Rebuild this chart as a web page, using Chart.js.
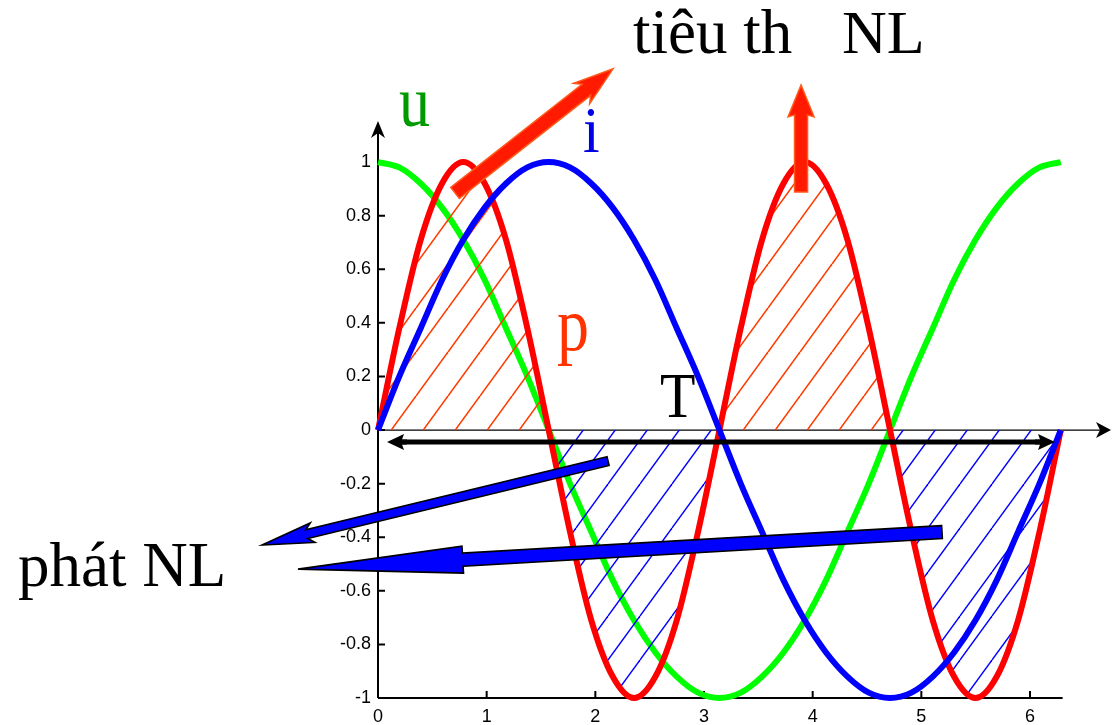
<!DOCTYPE html>
<html>
<head>
<meta charset="utf-8">
<title>u, i, p</title>
<script src="https://cdn.jsdelivr.net/npm/chart.js@4.4.1/dist/chart.umd.min.js"></script>
<style>
body { margin: 0; background: #fff; }
</style>
</head>
<body>
<canvas id="myChart" width="1112" height="725"></canvas>
<script>
// one period, sampled every pi/16
var xs = [0, 0.196, 0.393, 0.589, 0.785, 0.982, 1.178, 1.374, 1.571, 1.767, 1.963, 2.160, 2.356,
    2.553, 2.749, 2.945, 3.142, 3.338, 3.534, 3.731, 3.927, 4.123, 4.320, 4.516, 4.712, 4.909,
    5.105, 5.301, 5.498, 5.694, 5.890, 6.087, 6.283];
var uVals = [1, 0.98, 0.92, 0.83, 0.71, 0.56, 0.38, 0.2, 0, -0.2, -0.38, -0.56, -0.71, -0.83, -0.92, -0.98,
    -1, -0.98, -0.92, -0.83, -0.71, -0.56, -0.38, -0.2, 0, 0.2, 0.38, 0.56, 0.71, 0.83, 0.92, 0.98, 1];
var iVals = [0, 0.2, 0.38, 0.56, 0.71, 0.83, 0.92, 0.98, 1, 0.98, 0.92, 0.83, 0.71, 0.56, 0.38, 0.2,
    0, -0.2, -0.38, -0.56, -0.71, -0.83, -0.92, -0.98, -1, -0.98, -0.92, -0.83, -0.71, -0.56, -0.38, -0.2, 0];
var pVals = [0, 0.38, 0.71, 0.92, 1, 0.92, 0.71, 0.38, 0, -0.38, -0.71, -0.92, -1, -0.92, -0.71, -0.38,
    0, 0.38, 0.71, 0.92, 1, 0.92, 0.71, 0.38, 0, -0.38, -0.71, -0.92, -1, -0.92, -0.71, -0.38, 0];
var xTicks = [0, 1, 2, 3, 4, 5, 6];
var yTicks = [-1, -0.8, -0.6, -0.4, -0.2, 0, 0.2, 0.4, 0.6, 0.8, 1];

function points(ys) {
    return ys.map(function (v, k) { return { x: xs[k], y: v }; });
}

// diagonal hatch tile for the filled lobes
function hatch(color, width) {
    var w = 32, h = 44;
    var c = document.createElement('canvas');
    c.width = w;
    c.height = h;
    var g = c.getContext('2d');
    g.strokeStyle = color;
    g.lineWidth = width;
    [-w, 0, w].forEach(function (o) {
        g.beginPath();
        g.moveTo(o, h);
        g.lineTo(o + w, 0);
        g.stroke();
    });
    return g.createPattern(c, 'repeat');
}
var redHatch = hatch('#ff3c00', 1.6);
var blueHatch = hatch('#0000ff', 1.4);

function arrow(ctx, x1, y1, x2, y2, o) {
    var dx = x2 - x1, dy = y2 - y1, len = Math.sqrt(dx * dx + dy * dy);
    var ux = dx / len, uy = dy / len, nx = -uy, ny = ux;
    var bx = x2 - ux * o.head, by = y2 - uy * o.head;
    var kx = x2 - ux * (o.head - (o.barb || 0)), ky = y2 - uy * (o.head - (o.barb || 0));
    ctx.beginPath();
    ctx.moveTo(x1 + nx * o.shaft, y1 + ny * o.shaft);
    ctx.lineTo(kx + nx * o.shaft, ky + ny * o.shaft);
    ctx.lineTo(bx + nx * o.wing, by + ny * o.wing);
    ctx.lineTo(x2, y2);
    ctx.lineTo(bx - nx * o.wing, by - ny * o.wing);
    ctx.lineTo(kx - nx * o.shaft, ky - ny * o.shaft);
    ctx.lineTo(x1 - nx * o.shaft, y1 - ny * o.shaft);
    ctx.closePath();
    ctx.fillStyle = o.fill;
    ctx.fill();
    if (o.stroke) {
        ctx.lineJoin = 'miter';
        ctx.strokeStyle = o.stroke;
        ctx.lineWidth = o.lw || 1.5;
        ctx.stroke();
    }
}

// arrows, in axis units
var arrows = [
    { from: [0.709, 0.885], to: [2.163, 1.348], shaft: 7, head: 40, wing: 13, barb: 6, fill: '#ff1a00', stroke: '#ff5a1a', lw: 1.5 },
    { from: [3.893, 0.888], to: [3.893, 1.288], shaft: 6.5, head: 32, wing: 13, barb: 2, fill: '#ff1a00', stroke: '#ff5a1a', lw: 1.5 },
    { from: [2.117, -0.116], to: [-1.067, -0.429], shaft: 4.5, head: 52, wing: 10, barb: 6, fill: '#0000ff', stroke: '#000', lw: 1.6 },
    { from: [5.190, -0.381], to: [-0.736, -0.519], shaft: 6.5, head: 165, wing: 13.5, barb: 0, fill: '#0000ff', stroke: '#000', lw: 1.6 }
];

// text labels, in axis units
var serif = "'Liberation Serif', 'Times New Roman', serif";
var labels = [
    { text: 'tiêu th', at: [2.347, 1.408], size: 63, color: '#000', sy: 1 },
    { text: 'NL', at: [4.270, 1.408], size: 62, color: '#000', sy: 1 },
    { text: 'u', at: [0.193, 1.135], size: 62, color: '#009900', sy: 1.15 },
    { text: 'i', at: [1.887, 1.038], size: 60, color: '#0000e6', sy: 1.1 },
    { text: 'p', at: [1.647, 0.299], size: 64, color: '#ff3300', sy: 1.2 },
    { text: 'T', at: [2.595, 0.049], size: 58, color: '#000', sy: 1.1 },
    { text: 'phát NL', at: [-3.313, -0.583], size: 63, color: '#000', sy: 1 }
];

var axesPlugin = {
    id: 'axes',
    beforeDatasetsDraw: function (chart) {
        var ctx = chart.ctx, sx = chart.scales.x, sy = chart.scales.y, area = chart.chartArea;
        var x0 = sx.getPixelForValue(0), y0 = sy.getPixelForValue(0), yb = sy.getPixelForValue(-1);
        ctx.save();
        ctx.strokeStyle = '#000';
        ctx.fillStyle = '#000';
        // frame bottom and left
        ctx.lineWidth = 2;
        ctx.beginPath();
        ctx.moveTo(x0, yb);
        ctx.lineTo(sx.getPixelForValue(6.3), yb);
        ctx.moveTo(x0, yb);
        ctx.lineTo(x0, area.top + 10);
        ctx.stroke();
        // zero line
        ctx.lineWidth = 1.3;
        ctx.beginPath();
        ctx.moveTo(x0, y0);
        ctx.lineTo(area.right - 6, y0);
        ctx.stroke();
        // tick marks
        ctx.lineWidth = 2;
        ctx.beginPath();
        yTicks.forEach(function (v) {
            var y = sy.getPixelForValue(v);
            ctx.moveTo(x0, y);
            ctx.lineTo(x0 + 7, y);
        });
        xTicks.forEach(function (v) {
            var x = sx.getPixelForValue(v);
            ctx.moveTo(x, yb);
            ctx.lineTo(x, yb - 7);
        });
        ctx.stroke();
        // arrow heads
        ctx.beginPath();
        ctx.moveTo(area.right + 1, y0);
        ctx.lineTo(area.right - 14, y0 - 8);
        ctx.lineTo(area.right - 10, y0);
        ctx.lineTo(area.right - 14, y0 + 8);
        ctx.closePath();
        ctx.fill();
        ctx.beginPath();
        ctx.moveTo(x0, area.top + 1);
        ctx.lineTo(x0 - 7, area.top + 18);
        ctx.lineTo(x0, area.top + 13);
        ctx.lineTo(x0 + 7, area.top + 18);
        ctx.closePath();
        ctx.fill();
        ctx.restore();
    },
    afterDatasetsDraw: function (chart) {
        var ctx = chart.ctx, sx = chart.scales.x, sy = chart.scales.y;
        function px(a) { return [sx.getPixelForValue(a[0]), sy.getPixelForValue(a[1])]; }
        ctx.save();
        // period T
        var l = px([0.083, -0.045]), r = px([6.23, -0.045]);
        ctx.strokeStyle = '#000';
        ctx.lineWidth = 5;
        ctx.beginPath();
        ctx.moveTo(l[0] + 10, l[1]);
        ctx.lineTo(r[0] - 10, r[1]);
        ctx.stroke();
        arrow(ctx, r[0] - 20, r[1], r[0], r[1], { shaft: 2.5, head: 17, wing: 8, barb: 2, fill: '#000' });
        arrow(ctx, l[0] + 20, l[1], l[0], l[1], { shaft: 2.5, head: 17, wing: 8, barb: 2, fill: '#000' });
        arrows.forEach(function (a) {
            var f = px(a.from), t = px(a.to);
            arrow(ctx, f[0], f[1], t[0], t[1], a);
        });
        ctx.textAlign = 'left';
        ctx.textBaseline = 'alphabetic';
        labels.forEach(function (t) {
            var p = px(t.at);
            ctx.save();
            ctx.translate(p[0], p[1]);
            ctx.scale(1, t.sy);
            ctx.font = t.size + 'px ' + serif;
            ctx.fillStyle = t.color;
            ctx.fillText(t.text, 0, 0);
            ctx.restore();
        });
        ctx.restore();
    }
};

var tickFont = { family: "'Liberation Sans', Arial, sans-serif", size: 18 };

new Chart(document.getElementById('myChart'), {
    type: 'line',
    data: {
        datasets: [{
            label: 'i',
            data: points(iVals),
            borderColor: '#0000ff',
            borderWidth: 6,
            fill: false
        }, {
            label: 'p',
            data: points(pVals),
            borderColor: '#ff0000',
            borderWidth: 6,
            fill: { target: 'origin', above: redHatch, below: blueHatch }
        }, {
            label: 'u',
            data: points(uVals),
            borderColor: '#00ff00',
            borderWidth: 6,
            fill: false
        }]
    },
    options: {
        responsive: false,
        animation: false,
        layout: { padding: { left: 300, right: 2, top: 120, bottom: 0 } },
        elements: {
            point: { radius: 0 },
            line: { cubicInterpolationMode: 'monotone', borderCapStyle: 'butt' }
        },
        datasets: { line: { clip: false } },
        plugins: { legend: { display: false }, tooltip: { enabled: false } },
        scales: {
            x: {
                type: 'linear',
                min: 0,
                max: 6.736,
                grid: { display: false, drawTicks: false },
                border: { display: false },
                afterBuildTicks: function (s) { s.ticks = xTicks.map(function (v) { return { value: v }; }); },
                afterFit: function (s) { s.height = 27; },
                ticks: { autoSkip: false, maxRotation: 0, padding: 8, color: '#000', font: tickFont,
                    callback: function (v) { return String(v); } }
            },
            y: {
                type: 'linear',
                min: -1,
                max: 1.157,
                grid: { display: false, drawTicks: false },
                border: { display: false },
                afterBuildTicks: function (s) { s.ticks = yTicks.map(function (v) { return { value: v }; }); },
                afterFit: function (s) { s.width = 78; },
                ticks: { autoSkip: false, padding: 7, color: '#000', font: tickFont,
                    callback: function (v) { return String(v); } }
            }
        }
    },
    plugins: [axesPlugin]
});
</script>
</body>
</html>
